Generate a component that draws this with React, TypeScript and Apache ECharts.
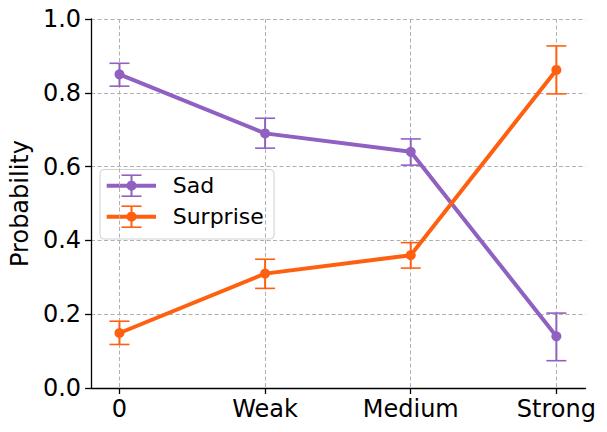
import React, { useEffect, useRef } from "react";
import * as echarts from "echarts";

const categories = ["0", "Weak", "Medium", "Strong"];
const xPositions = [0, 1, 2, 3];
const sadMean = [0.85, 0.69, 0.64, 0.14];
const sadLow = [0.818, 0.65, 0.604, 0.074];
const sadHigh = [0.88, 0.731, 0.675, 0.203];
const surpriseMean = [0.149, 0.31, 0.36, 0.862];
const surpriseLow = [0.118, 0.27, 0.325, 0.797];
const surpriseHigh = [0.181, 0.349, 0.394, 0.927];

const SAD = "#9061c1";
const SURPRISE = "#ff6010";
const FONT = "DejaVu Sans";

function errSeries(name: string, color: string, low: number[], high: number[], z: number) {
  return {
    type: "custom",
    name: name + "-err",
    z,
    silent: true,
    data: xPositions.map((x, i) => [x, low[i], high[i]]),
    renderItem: (params: any, api: any) => {
      const x = api.value(0);
      const lo = api.coord([x, api.value(1)]);
      const hi = api.coord([x, api.value(2)]);
      const cap = 10;
      const st = { stroke: color, lineWidth: 2 };
      return {
        type: "group",
        children: [
          { type: "line", shape: { x1: lo[0], y1: lo[1], x2: hi[0], y2: hi[1] }, style: st },
          { type: "line", shape: { x1: lo[0] - cap, y1: lo[1], x2: lo[0] + cap, y2: lo[1] }, style: { stroke: color, lineWidth: 1.6 } },
          { type: "line", shape: { x1: hi[0] - cap, y1: hi[1], x2: hi[0] + cap, y2: hi[1] }, style: { stroke: color, lineWidth: 1.6 } },
        ],
      };
    },
  };
}

function lineSeries(name: string, color: string, vals: number[], z: number) {
  return {
    type: "line",
    name,
    z,
    data: xPositions.map((x, i) => [x, vals[i]]),
    symbol: "circle",
    symbolSize: 10,
    itemStyle: { color },
    lineStyle: { color, width: 4 },
    showSymbol: true,
  };
}

function legendRow(label: string, color: string, y: number) {
  return [
    { type: "line", shape: { x1: 106.7, y1: y, x2: 156, y2: y }, style: { stroke: color, lineWidth: 4 } },
    { type: "line", shape: { x1: 131.5, y1: y - 10.5, x2: 131.5, y2: y + 10.5 }, style: { stroke: color, lineWidth: 2 } },
    { type: "line", shape: { x1: 121.5, y1: y - 10.5, x2: 141.5, y2: y - 10.5 }, style: { stroke: color, lineWidth: 1.6 } },
    { type: "line", shape: { x1: 121.5, y1: y + 10.5, x2: 141.5, y2: y + 10.5 }, style: { stroke: color, lineWidth: 1.6 } },
    { type: "circle", shape: { cx: 131.5, cy: y, r: 5 }, style: { fill: color } },
    {
      type: "text",
      x: 172.7,
      y,
      style: { text: label, fill: "#000", font: `22px '${FONT}'`, verticalAlign: "middle", align: "left" },
    },
  ];
}

export default function App() {
  const ref = useRef<HTMLDivElement>(null);
  useEffect(() => {
    if (!ref.current) return;
    const chart = echarts.init(ref.current, null, { renderer: "svg" });
    const grid = { left: 90, right: 21.5, top: 19, bottom: 44 };
    chart.setOption({
      animation: false,
      backgroundColor: "#fff",
      grid,
      xAxis: {
        type: "value",
        min: -0.195,
        max: 3.2,
        axisLine: { show: true, onZero: false, lineStyle: { color: "#000", width: 1.3 } },
        axisTick: { show: true, customValues: xPositions, length: 6, lineStyle: { color: "#000", width: 1.3 } },
        axisLabel: {
          customValues: xPositions,
          formatter: (v: number) => categories[Math.round(v)],
          color: "#000",
          fontSize: 24,
          fontFamily: FONT,
          margin: 9,
        },
        splitLine: { show: true, lineStyle: { color: "#b0b0b0", type: [4, 2.5], width: 1 } },
      },
      yAxis: {
        type: "value",
        min: 0,
        max: 1,
        interval: 0.2,
        name: "Probability",
        nameLocation: "middle",
        nameGap: 53,
        nameTextStyle: { color: "#000", fontSize: 24, fontFamily: FONT },
        axisLine: { show: true, onZero: false, lineStyle: { color: "#000", width: 1.3 } },
        axisTick: { show: true, length: 6, lineStyle: { color: "#000", width: 1.3 } },
        axisLabel: {
          formatter: (v: number) => v.toFixed(1),
          color: "#000",
          fontSize: 24,
          fontFamily: FONT,
          margin: 10,
        },
        splitLine: { show: true, lineStyle: { color: "#b0b0b0", type: [4, 2.5], width: 1 } },
      },
      series: [
        lineSeries("Sad", SAD, sadMean, 2),
        errSeries("Sad", SAD, sadLow, sadHigh, 3),
        lineSeries("Surprise", SURPRISE, surpriseMean, 4),
        errSeries("Surprise", SURPRISE, surpriseLow, surpriseHigh, 5),
      ],
      graphic: [
        {
          type: "group",
          z: 100,
          children: [
            {
              type: "rect",
              shape: { x: 100, y: 169.5, width: 174, height: 69.5, r: 4 },
              style: { fill: "rgba(255,255,255,0.8)", stroke: "#d0d0d0", lineWidth: 1 },
            },
            ...legendRow("Sad", SAD, 185.7),
            ...legendRow("Surprise", SURPRISE, 216.7),
          ],
        },
      ],
    });
    return () => chart.dispose();
  }, []);
  return (
    <div
      ref={ref}
      style={{ position: "fixed", left: 0, top: 0, width: 607, height: 432 }}
    />
  );
}
